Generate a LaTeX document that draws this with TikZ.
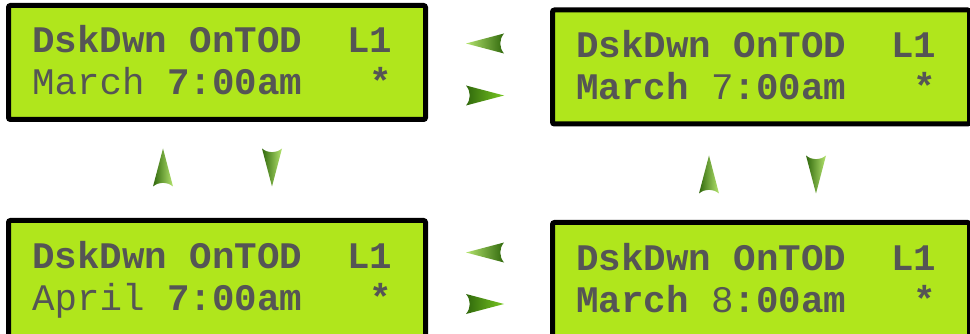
\documentclass[tikz,border=0pt]{standalone}
\usepackage{fontspec}
\setmonofont{Liberation Mono}
\usetikzlibrary{positioning}
\definecolor{lcdgreen}{RGB}{176,230,28}
\definecolor{lcdink}{RGB}{85,85,85}
\definecolor{darkleaf}{RGB}{48,104,12}
\definecolor{midleaf}{RGB}{120,200,34}
\definecolor{paleleaf}{RGB}{180,228,110}
\newcommand{\unlit}[1]{{\mdseries #1}}

\tikzset{
  lcd/.style={draw=black, line width=5pt, fill=lcdgreen, rounded corners=2pt,
    minimum width=417pt, minimum height=114pt, inner sep=0pt},
  row/.style={anchor=base west, inner sep=0pt, text=lcdink,
    font=\ttfamily\bfseries\fontsize{37.5}{42}\selectfont},
  pics/flick/.style 2 args={code={
    \shade[left color=#1, right color=#2] (-19,-10) .. controls (0,-5.8) .. (19,0)
      .. controls (0,5.8) .. (-19,10) .. controls (-14,4) and (-14,-4) .. cycle;}}
}

\begin{document}
\begin{tikzpicture}[x=1pt, y=-1pt]
  \path[use as bounding box, clip] (0,0) rectangle (970,334);

  % Displays
  \node[lcd] (mar7) at (217,62.5) {};
  \node[lcd] (hour7) at (761,67) {};
  \node[lcd, minimum height=130pt] (apr7) at (217,285.5) {};
  \node[lcd, minimum height=130pt] (hour8) at (761,287.5) {};

  % Lines of text
  \node[row] (mar7a) at ([shift={(26,50)}]mar7.north west) {DskDwn OnTOD~~L1};
  \node[row] (mar7b) at ([shift={(26,92)}]mar7.north west) {\unlit{March} 7:00am~~~*};
  \node[row] (hour7a) at ([shift={(26,50)}]hour7.north west) {DskDwn OnTOD~~L1};
  \node[row] (hour7b) at ([shift={(26,92)}]hour7.north west) {March \unlit{7}:00am~~~*};
  \node[row] (apr7a) at ([shift={(26,50)}]apr7.north west) {DskDwn OnTOD~~L1};
  \node[row] (apr7b) at ([shift={(26,92)}]apr7.north west) {\unlit{April} 7:00am~~~*};
  \node[row] (hour8a) at ([shift={(26,50)}]hour8.north west) {DskDwn OnTOD~~L1};
  \node[row] (hour8b) at ([shift={(26,92)}]hour8.north west) {March \unlit{8}:00am~~~*};

  % Left / right keys
  \pic[rotate=180] at (485,43.5) {flick={paleleaf}{darkleaf}};
  \pic at (485,95.5) {flick={darkleaf}{midleaf}};
  \pic[rotate=180] at (485,252.5) {flick={paleleaf}{darkleaf}};
  \pic at (485,304) {flick={darkleaf}{midleaf}};

  % Up / down keys
  \pic[rotate=90] at (163,167.5) {flick={darkleaf}{paleleaf}};
  \pic[rotate=-90] at (272,167.5) {flick={darkleaf}{paleleaf}};
  \pic[rotate=90] at (709,174.5) {flick={darkleaf}{paleleaf}};
  \pic[rotate=-90] at (816,174.5) {flick={darkleaf}{paleleaf}};
\end{tikzpicture}
\end{document}
